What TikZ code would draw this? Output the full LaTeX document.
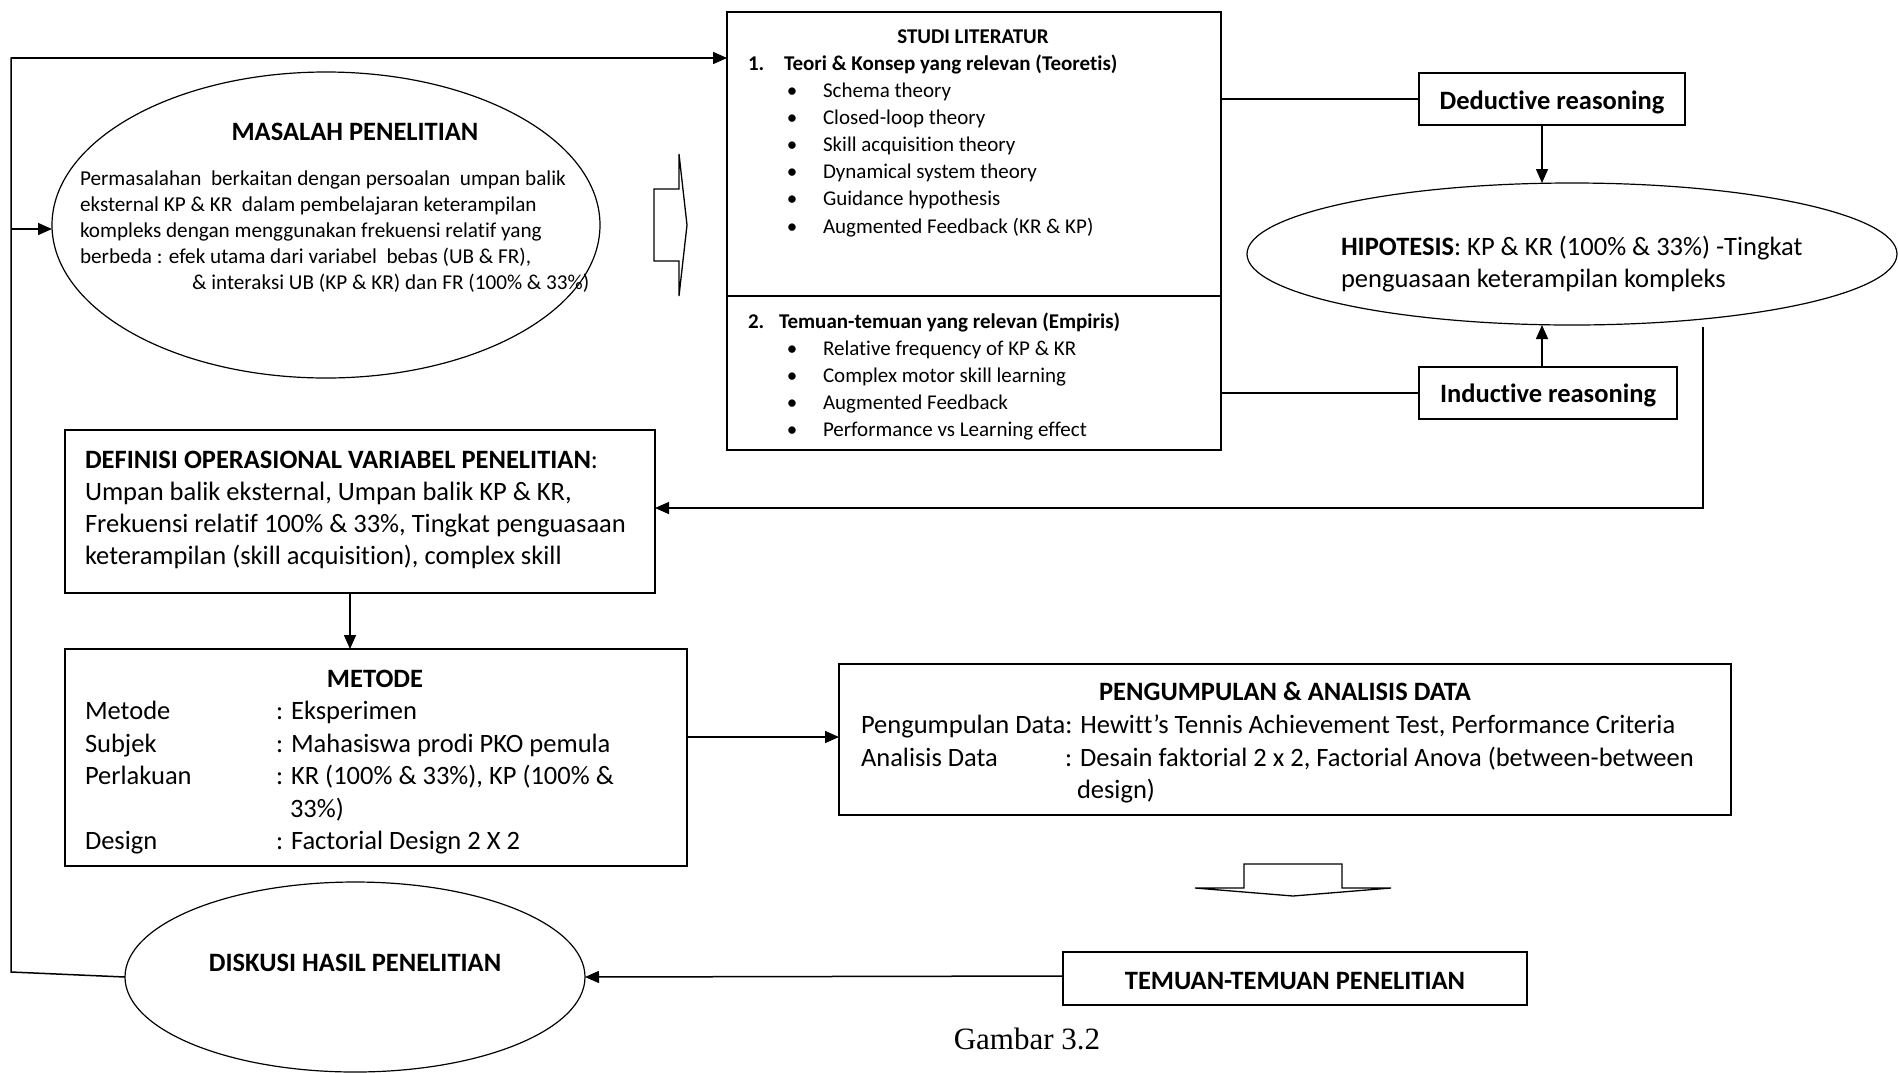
\documentclass[tikz,border=0pt]{standalone}
\usepackage{fontspec}
\setmainfont{Carlito}[Ligatures={NoCommon,NoContextual}]
\newfontfamily\capfont{Liberation Serif}
\usetikzlibrary{arrows.meta,shapes.geometric}
\newcommand\fsS{\fontsize{21}{26}\selectfont}
\newcommand\fsM{\fontsize{21.2}{26}\selectfont}
\newcommand\fsL{\fontsize{26.5}{32.4}\selectfont}
\begin{document}
\begin{tikzpicture}[x=1pt,y=-1pt,
  every node/.style={inner sep=0pt, outer sep=0pt},
  box/.style={draw, line width=1.5pt, rectangle},
  ell/.style={draw, ellipse, line width=1.2pt},
  conn/.style={line width=1.5pt},
  arr/.style={conn, -{Triangle[length=14pt,width=12pt]}},
  tl/.style={anchor=base west, font=\fsL},
  ts/.style={anchor=base west, font=\fsS},
  tm/.style={anchor=base west, font=\fsM},
  tb/.style={anchor=base, font=\fsL\bfseries},
  blockarrow/.style={draw, line width=1.3pt, line join=miter},
]
\useasboundingbox (0,0) rectangle (1898,1072);

% ---------- shapes ----------
\node[box, minimum width=494pt, minimum height=438pt] (studi) at (974,231) {};
\node[box, minimum width=266pt, minimum height=52pt] (ded) at (1552,99) {};
\node[box, minimum width=258pt, minimum height=52pt] (ind) at (1548,393) {};
\node[ell, minimum width=650pt, minimum height=142pt] (hip) at (1572,254) {};
\node[ell, minimum width=548pt, minimum height=306pt] (mas) at (326,225) {};
\node[box, minimum width=590pt, minimum height=163pt] (def) at (360,511.5) {};
\node[box, minimum width=622pt, minimum height=217pt] (met) at (376,757.5) {};
\node[box, minimum width=892pt, minimum height=151pt] (peng) at (1285,739.5) {};
\node[box, minimum width=464pt, minimum height=53pt] (tem) at (1295,978.5) {};
\node[ell, minimum width=460pt, minimum height=190pt] (dis) at (355,977) {};

% divider in STUDI LITERATUR
\draw[conn] (studi.west |- 0,296) -- (studi.east |- 0,296);

% ---------- texts ----------
\node[tb] (dedt) at (1552,109) {Deductive reasoning};
\node[tb] (indt) at (1548,402) {Inductive reasoning};
\node[tb] (temt) at (1295,989) {TEMUAN-TEMUAN PENELITIAN};

% Studi literatur
\node[anchor=base, font=\fsS\bfseries] (st) at (973,43) {STUDI LITERATUR};
\node[ts, font=\fsS\bfseries] (s1n) at (748,70) {1.};
\node[ts, font=\fsS\bfseries] (s1) at (784,70) {Teori \& Konsep yang relevan (Teoretis)};
\foreach \t [count=\i] in {{Schema theory},{Closed-loop theory},{Skill acquisition theory},{Dynamical system theory},{Guidance hypothesis},{Augmented Feedback (KR \& KP)}}{
  \node[anchor=base, font=\fsS] (sb\i) at (792,{97+27.2*(\i-1)}) {\textbullet};
  \node[ts] (sa\i) at (823,{97+27.2*(\i-1)}) {\t};
}
\node[ts, font=\fsS\bfseries] (s2n) at (748,328) {2.};
\node[ts, font=\fsS\bfseries] (s2) at (779,328) {Temuan-temuan yang relevan (Empiris)};
\foreach \t [count=\i] in {{Relative frequency of KP \& KR},{Complex motor skill learning},{Augmented Feedback},{Performance vs Learning effect}}{
  \node[anchor=base, font=\fsS] (tb\i) at (792,{355+27*(\i-1)}) {\textbullet};
  \node[ts] (ta\i) at (823,{355+27*(\i-1)}) {\t};
}

% Masalah penelitian
\node[tb] (mt) at (355,140.5) {MASALAH PENELITIAN};
\node[tm] (m1) at (80,185) {Permasalahan\ \ berkaitan dengan persoalan\ \ umpan balik};
\node[tm] (m2) at (80,211) {eksternal KP \& KR\ \ dalam pembelajaran keterampilan};
\node[tm] (m3) at (80,237) {kompleks dengan menggunakan frekuensi relatif yang};
\node[tm] (m4) at (80,263) {berbeda : efek utama dari variabel\ \ bebas (UB \& FR),};
\node[tm] (m5) at (192,289) {\& interaksi UB (KP \& KR) dan FR (100\% \& 33\%)};

% Hipotesis
\node[tl] (h1) at (1341,255) {\textbf{HIPOTESIS}: KP \& KR (100\% \& 33\%) -Tingkat};
\node[tl] (h2) at (1341,287.5) {penguasaan keterampilan kompleks};

% Definisi
\node[tl] (d1) at (85,468) {\textbf{DEFINISI OPERASIONAL VARIABEL PENELITIAN}:};
\node[tl] (d2) at (85,500) {Umpan balik eksternal, Umpan balik KP \& KR,};
\node[tl] (d3) at (85,532) {Frekuensi relatif 100\% \& 33\%, Tingkat penguasaan};
\node[tl] (d4) at (85,564) {keterampilan (skill acquisition), complex skill};

% Metode
\node[tb] (mtt) at (375,687) {METODE};
\node[tl] (ml1) at (85,719.5) {Metode};
\node[tl] (mv1) at (276,719.5) {: Eksperimen};
\node[tl] (ml2) at (85,752) {Subjek};
\node[tl] (mv2) at (276,752) {: Mahasiswa prodi PKO pemula};
\node[tl] (ml3) at (85,784.5) {Perlakuan};
\node[tl] (mv3) at (276,784.5) {: KR (100\% \& 33\%), KP (100\% \&};
\node[tl] (mv3b) at (290,817) {33\%)};
\node[tl] (ml4) at (85,849.5) {Design};
\node[tl] (mv4) at (276,849.5) {: Factorial Design 2 X 2};

% Pengumpulan
\node[tb] (pt) at (1285,700.5) {PENGUMPULAN \& ANALISIS DATA};
\node[tl] (p1) at (861,733.5) {Pengumpulan Data: Hewitt’s Tennis Achievement Test, Performance Criteria};
\node[tl] (p2l) at (861,766) {Analisis Data};
\node[tl] (p2v) at (1065,766) {: Desain faktorial 2 x 2, Factorial Anova (between-between};
\node[tl] (p3) at (1077,798.5) {design)};

% Diskusi
\node[tb] (dt) at (355,971.5) {DISKUSI HASIL PENELITIAN};

% Caption
\node[anchor=base, font=\capfont\fontsize{31}{36}\selectfont] (cap) at (1027,1049) {Gambar 3.2};

% ---------- block arrows ----------
\draw[blockarrow] (654,189) -- (679,189) -- (679,154) -- (687,225) -- (679,296) -- (679,261) -- (654,261) -- cycle;
\draw[blockarrow] (1244,864) -- (1342,864) -- (1342,888) -- (1391,888) -- (1293,896) -- (1195,888) -- (1244,888) -- cycle;

% ---------- connectors ----------
\draw[conn] (studi.east |- ded.west) -- (ded.west);
\draw[conn] (studi.east |- ind.west) -- (ind.west);
\draw[arr] ([xshift=-10pt]ded.south) -- ([xshift=-10pt]ded.south |- hip.north);
\draw[arr] ([xshift=-6pt]ind.north) -- ([xshift=-6pt]ind.north |- hip.south);

\coordinate (fb1) at (1703,327);
\coordinate (fb2) at (1703,508);
\draw[arr] (fb1) -- (fb2) -- (fb2 -| def.east);

\draw[arr] ([xshift=-10pt]def.south) -- ([xshift=-10pt]def.south |- met.north);
\draw[arr] ([yshift=20.5pt]met.east) -- ([yshift=2.5pt]peng.west);
\draw[arr] ([yshift=2.5pt]tem.west) -- (dis.east);

\coordinate (lb) at (11,972);
\coordinate (lt) at (11,58);
\coordinate (lm) at (11,229);
\draw[conn, line join=miter] (dis.west) -- (lb) -- (lt) -- ++(1,0);
\draw[arr] (lt) -- (lt -| studi.west);
\draw[arr] (lm) -- (lm -| mas.west);
\end{tikzpicture}
\end{document}
